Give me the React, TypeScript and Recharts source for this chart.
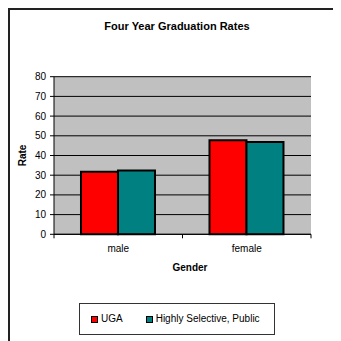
import React from 'react';
import { BarChart, Bar, XAxis, YAxis, CartesianGrid, Legend } from 'recharts';

// Four-year graduation rates by gender
const genders = ['male', 'female'];
const ugaRates = [31.7, 47.7];
const selectiveRates = [32.4, 46.8];
const rateTicks = [0, 10, 20, 30, 40, 50, 60, 70, 80];

const seriesKeys = ['uga', 'selective'];
const seriesNames = { uga: 'UGA', selective: 'Highly Selective, Public' };

const data = genders.map((g, i) => ({
  gender: g,
  uga: ugaRates[i],
  selective: selectiveRates[i],
}));

const FONT = '"Liberation Sans", Arial, Helvetica, sans-serif';

// Category labels centred under each group; tick marks sit on the group boundaries.
const GenderTick = (props: any) => {
  const { x, y, payload, index } = props;
  const half = payload?.offset ?? 0;
  const last = index === genders.length - 1;
  return (
    <g>
      <line x1={x - half} x2={x - half} y1={y - 4} y2={y} stroke="#000" strokeWidth={1} />
      {last && <line x1={x + half} x2={x + half} y1={y - 4} y2={y} stroke="#000" strokeWidth={1} />}
      <text x={x} y={y + 14} textAnchor="middle" fontSize={10} fontFamily={FONT} fill="#000">
        {payload.value}
      </text>
    </g>
  );
};

// Legend box keeps the series in the order they are drawn.
const renderLegend = (props: any) => {
  const items = [...(props.payload || [])].sort(
    (a: any, b: any) => seriesKeys.indexOf(a.dataKey) - seriesKeys.indexOf(b.dataKey)
  );
  return (
    <div
      style={{
        boxSizing: 'border-box',
        width: 196,
        height: 32,
        border: '1px solid #333',
        display: 'flex',
        alignItems: 'center',
        paddingLeft: 11,
        fontFamily: FONT,
        fontSize: 10,
        lineHeight: '12px',
        color: '#000',
        background: '#fff',
      }}
    >
      {items.map((e: any, i: number) => (
        <span key={i} style={{ display: 'flex', alignItems: 'center', marginRight: i === 0 ? 23 : 0 }}>
          <span
            style={{
              display: 'inline-block',
              width: 5,
              height: 5,
              border: '1px solid #000',
              background: e.color,
              marginRight: 3,
            }}
          />
          <span>{e.value}</span>
        </span>
      ))}
    </div>
  );
};

export default function App() {
  return (
    <div style={{ position: 'relative', width: 333, height: 333 }}>
      <div
        style={{
          position: 'absolute',
          left: 0,
          top: 0,
          width: 333,
          height: 333,
          boxSizing: 'border-box',
          borderLeft: '2px solid #222',
          borderTop: '2px solid #222',
          pointerEvents: 'none',
        }}
      />
      <BarChart
        width={333}
        height={333}
        data={data}
        margin={{ top: 68.7, right: 30, bottom: 76.7, left: 0 }}
        barGap={0}
        barCategoryGap="21%"
      >
        <text
          x={169}
          y={22}
          textAnchor="middle"
          fontSize={11}
          fontWeight="bold"
          fontFamily={FONT}
          fill="#000"
        >
          Four Year Graduation Rates
        </text>
        <CartesianGrid vertical={false} stroke="#000" strokeWidth={1} fill="#C0C0C0" fillOpacity={1} />
        <XAxis
          dataKey="gender"
          height={30}
          axisLine={{ stroke: '#000', strokeWidth: 1 }}
          tickLine={false}
          tickSize={4}
          tickMargin={0}
          tick={<GenderTick />}
          interval={0}
          label={(p: any) => {
            const vb = p.viewBox || { x: 46, y: 226.3, width: 257 };
            return (
              <text
                x={vb.x + vb.width / 2 + 7.5}
                y={262.5}
                textAnchor="middle"
                fontSize={10}
                fontWeight="bold"
                fontFamily={FONT}
                fill="#000"
              >
                Gender
              </text>
            );
          }}
        />
        <XAxis
          xAxisId="frameTop"
          dataKey="gender"
          orientation="top"
          height={0}
          tick={false}
          tickLine={false}
          axisLine={{ stroke: '#808080', strokeWidth: 2 }}
        />
        <YAxis
          width={46}
          domain={[0, 80]}
          ticks={rateTicks}
          interval={0}
          axisLine={{ stroke: '#000', strokeWidth: 1 }}
          tickLine={{ stroke: '#000', strokeWidth: 1 }}
          tickSize={4}
          tickMargin={4}
          tick={{ fontSize: 10, fontFamily: FONT, fill: '#000' }}
          label={() => (
            <text
              x={18}
              y={147.5}
              transform="rotate(-90, 18, 147.5)"
              textAnchor="middle"
              fontSize={10}
              fontWeight="bold"
              fontFamily={FONT}
              fill="#000"
            >
              Rate
            </text>
          )}
        />
        <YAxis
          yAxisId="frameRight"
          orientation="right"
          width={0}
          domain={[0, 80]}
          tick={false}
          tickLine={false}
          axisLine={{ stroke: '#808080', strokeWidth: 2 }}
        />
        <Bar
          dataKey="uga"
          name={seriesNames.uga}
          fill="#FF0000"
          stroke="#000"
          strokeWidth={2}
          isAnimationActive={false}
        />
        <Bar
          dataKey="selective"
          name={seriesNames.selective}
          fill="#008080"
          stroke="#000"
          strokeWidth={2}
          isAnimationActive={false}
        />
        <Legend
          layout="horizontal"
          verticalAlign="middle"
          align="center"
          wrapperStyle={{ left: 71, top: 295, width: 196, height: 32 }}
          content={renderLegend}
        />
      </BarChart>
    </div>
  );
}
